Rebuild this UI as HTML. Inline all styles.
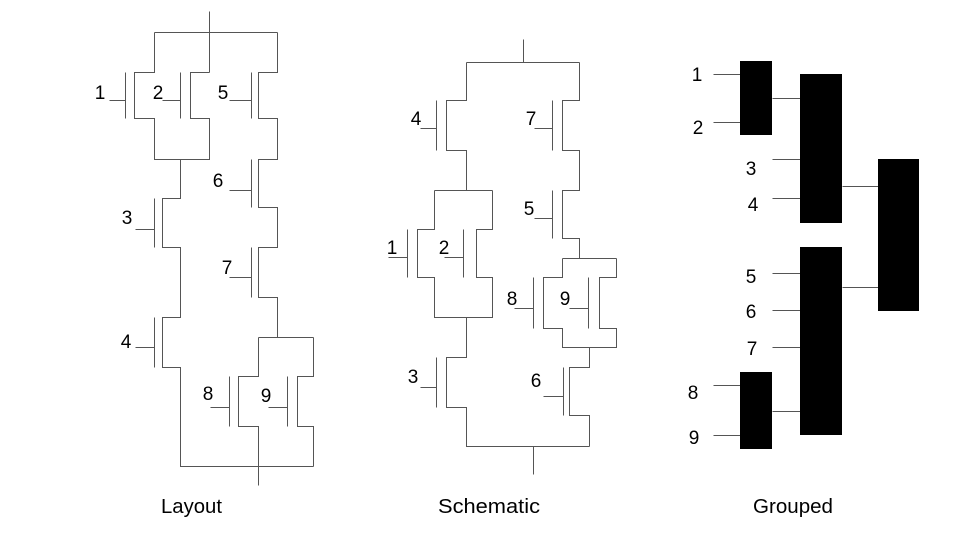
<!DOCTYPE html>
<html>
<head>
<meta charset="utf-8">
<style>
html,body{margin:0;padding:0;background:#fff;}
svg{display:block;}
text{font-family:"Liberation Sans",Arial,sans-serif;fill:#000;}
</style>
</head>
<body>
<svg width="957" height="542" viewBox="0 0 957 542" xmlns="http://www.w3.org/2000/svg">
<rect width="957" height="542" fill="#fff"/>
<g transform="translate(0.5,0.5)" fill="none" stroke="#555" stroke-width="1" shape-rendering="crispEdges">
  <!-- Layout -->
  <line x1="209" y1="11" x2="209" y2="72"/>
  <line x1="154" y1="32" x2="277" y2="32"/>
  <polyline points="154,32 154,72 134,72 134,118 154,118 154,159 209,159 209,118 190,118 190,72 209,72"/>
  <line x1="125" y1="72" x2="125" y2="118"/><line x1="109" y1="100" x2="125" y2="100"/>
  <line x1="180" y1="72" x2="180" y2="118"/><line x1="162" y1="100" x2="180" y2="100"/>
  <polyline points="277,32 277,72 258,72 258,118 277,118 277,159 258,159 258,207 277,207 277,247 258,247 258,297 277,297 277,337"/>
  <line x1="251" y1="72" x2="251" y2="118"/><line x1="229" y1="100" x2="251" y2="100"/>
  <line x1="251" y1="159" x2="251" y2="207"/><line x1="229" y1="190" x2="251" y2="190"/>
  <line x1="251" y1="247" x2="251" y2="297"/><line x1="229" y1="277" x2="251" y2="277"/>
  <polyline points="180,159 180,198 162,198 162,247 180,247 180,317 162,317 162,367 180,367 180,466 313,466"/>
  <line x1="154" y1="198" x2="154" y2="247"/><line x1="135" y1="229" x2="154" y2="229"/>
  <line x1="154" y1="317" x2="154" y2="367"/><line x1="135" y1="347" x2="154" y2="347"/>
  <line x1="258" y1="337" x2="313" y2="337"/>
  <polyline points="258,337 258,376 238,376 238,426 258,426 258,485"/>
  <polyline points="313,337 313,376 297,376 297,426 313,426 313,466"/>
  <line x1="229" y1="376" x2="229" y2="426"/><line x1="210" y1="407" x2="229" y2="407"/>
  <line x1="287" y1="376" x2="287" y2="426"/><line x1="268" y1="407" x2="287" y2="407"/>

  <!-- Schematic -->
  <line x1="523" y1="39" x2="523" y2="62"/>
  <line x1="466" y1="62" x2="579" y2="62"/>
  <polyline points="466,62 466,100 446,100 446,150 466,150 466,190"/>
  <line x1="436" y1="100" x2="436" y2="150"/><line x1="420" y1="128" x2="436" y2="128"/>
  <line x1="434" y1="190" x2="492" y2="190"/>
  <polyline points="434,190 434,229 417,229 417,277 434,277 434,317 492,317 492,277 476,277 476,229 492,229 492,190"/>
  <line x1="407" y1="229" x2="407" y2="277"/><line x1="388" y1="257" x2="407" y2="257"/>
  <line x1="463" y1="229" x2="463" y2="277"/><line x1="444" y1="257" x2="463" y2="257"/>
  <polyline points="466,317 466,357 446,357 446,407 466,407 466,446 589,446"/>
  <line x1="436" y1="357" x2="436" y2="407"/><line x1="420" y1="387" x2="436" y2="387"/>
  <line x1="533" y1="446" x2="533" y2="474"/>
  <polyline points="579,62 579,100 562,100 562,150 579,150 579,190 562,190 562,238 579,238 579,258"/>
  <line x1="552" y1="100" x2="552" y2="150"/><line x1="534" y1="128" x2="552" y2="128"/>
  <line x1="552" y1="190" x2="552" y2="238"/><line x1="534" y1="218" x2="552" y2="218"/>
  <line x1="562" y1="258" x2="616" y2="258"/>
  <polyline points="562,258 562,277 543,277 543,328 562,328 562,347 616,347 616,328 599,328 599,277 616,277 616,258"/>
  <line x1="533" y1="277" x2="533" y2="328"/><line x1="514" y1="308" x2="533" y2="308"/>
  <line x1="588" y1="277" x2="588" y2="328"/><line x1="569" y1="308" x2="588" y2="308"/>
  <polyline points="589,347 589,367 569,367 569,415 589,415 589,446"/>
  <line x1="563" y1="367" x2="563" y2="415"/><line x1="543" y1="396" x2="563" y2="396"/>

  <!-- Grouped lines -->
  <line x1="713" y1="74" x2="740" y2="74"/>
  <line x1="713" y1="122" x2="740" y2="122"/>
  <line x1="772" y1="98" x2="800" y2="98"/>
  <line x1="772" y1="159" x2="800" y2="159"/>
  <line x1="772" y1="198" x2="800" y2="198"/>
  <line x1="842" y1="186" x2="878" y2="186"/>
  <line x1="772" y1="273" x2="800" y2="273"/>
  <line x1="772" y1="310" x2="800" y2="310"/>
  <line x1="772" y1="347" x2="800" y2="347"/>
  <line x1="842" y1="287" x2="878" y2="287"/>
  <line x1="713" y1="385" x2="740" y2="385"/>
  <line x1="713" y1="435" x2="740" y2="435"/>
  <line x1="772" y1="411" x2="800" y2="411"/>
</g>
<g fill="#000" shape-rendering="crispEdges">
  <rect x="740" y="61" width="32" height="74"/>
  <rect x="800" y="74" width="42" height="149"/>
  <rect x="878" y="159" width="41" height="152"/>
  <rect x="800" y="247" width="42" height="188"/>
  <rect x="740" y="372" width="32" height="77"/>
</g>
<g font-size="19" text-anchor="middle">
  <!-- Layout labels -->
  <text x="100" y="99">1</text>
  <text x="158" y="99">2</text>
  <text x="223" y="99">5</text>
  <text x="218" y="187">6</text>
  <text x="127" y="224">3</text>
  <text x="227" y="274">7</text>
  <text x="126" y="348">4</text>
  <text x="208" y="400">8</text>
  <text x="266" y="402">9</text>
  <!-- Schematic labels -->
  <text x="416" y="125">4</text>
  <text x="531" y="125">7</text>
  <text x="529" y="215">5</text>
  <text x="392" y="254">1</text>
  <text x="444" y="254">2</text>
  <text x="512" y="305">8</text>
  <text x="565" y="305">9</text>
  <text x="413" y="383">3</text>
  <text x="536" y="387">6</text>
  <!-- Grouped labels -->
  <text x="697" y="81">1</text>
  <text x="698" y="134">2</text>
  <text x="751" y="175">3</text>
  <text x="753" y="211">4</text>
  <text x="751" y="283">5</text>
  <text x="751" y="318">6</text>
  <text x="752" y="355">7</text>
  <text x="693" y="399">8</text>
  <text x="694" y="444">9</text>
</g>
<g font-size="20">
  <text x="161" y="513" textLength="61" lengthAdjust="spacingAndGlyphs">Layout</text>
  <text x="438" y="513" textLength="102" lengthAdjust="spacingAndGlyphs">Schematic</text>
  <text x="753" y="513" textLength="80" lengthAdjust="spacingAndGlyphs">Grouped</text>
</g>
</svg>
</body>
</html>
